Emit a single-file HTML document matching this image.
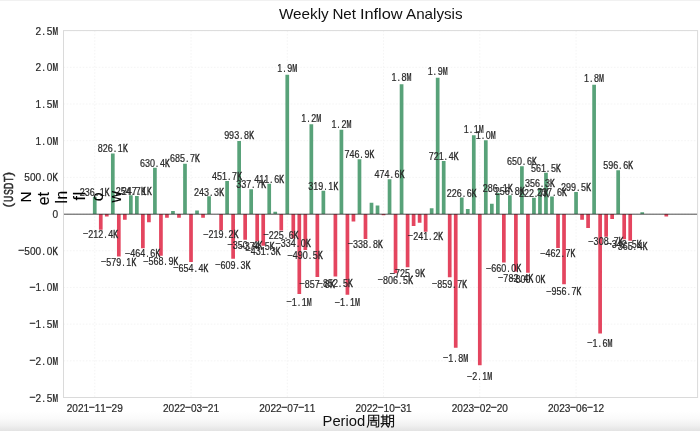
<!DOCTYPE html>
<html><head><meta charset="utf-8"><title>Weekly Net Inflow Analysis</title>
<style>html,body{margin:0;padding:0;background:#fff;}body{width:700px;height:431px;overflow:hidden;font-family:"Liberation Sans",sans-serif;}svg{display:block;will-change:transform;}</style>
</head><body>
<svg width="700" height="431" viewBox="0 0 700 431">
<defs><linearGradient id="bg" x1="0" y1="0" x2="0" y2="1"><stop offset="0" stop-color="#ffffff"/><stop offset="0.35" stop-color="#fbfbfb"/><stop offset="0.7" stop-color="#f1f1f1"/><stop offset="1" stop-color="#e3e3e3"/></linearGradient></defs>
<rect x="0" y="0" width="700" height="431" fill="#fff"/>
<rect x="0" y="411" width="700" height="20" fill="url(#bg)"/>
<rect x="0" y="0" width="700" height="1" fill="#f1f1f1"/>
<path d="M63.5 30.60H697.6 M63.5 67.29H697.6 M63.5 103.98H697.6 M63.5 140.67H697.6 M63.5 177.36H697.6 M63.5 214.05H697.6 M63.5 250.74H697.6 M63.5 287.43H697.6 M63.5 324.12H697.6 M63.5 360.81H697.6 M63.5 397.50H697.6 M94.75 30.6V397.5 M191.01 30.6V397.5 M287.27 30.6V397.5 M383.53 30.6V397.5 M479.79 30.6V397.5 M576.05 30.6V397.5" stroke="#f1f1f1" stroke-width="0.8" stroke-dasharray="1.6 1.6" fill="none"/>
<path d="M92.90 196.72h3.7V214.05h-3.7zM110.95 153.43h3.7V214.05h-3.7zM129.00 195.36h3.7V214.05h-3.7zM135.01 195.92h3.7V214.05h-3.7zM153.06 167.79h3.7V214.05h-3.7zM171.11 211.04h3.7V214.05h-3.7zM183.14 163.73h3.7V214.05h-3.7zM195.18 210.53h3.7V214.05h-3.7zM207.21 196.20h3.7V214.05h-3.7zM225.26 180.90h3.7V214.05h-3.7zM237.29 141.12h3.7V214.05h-3.7zM249.32 189.27h3.7V214.05h-3.7zM267.37 183.85h3.7V214.05h-3.7zM273.39 211.85h3.7V214.05h-3.7zM285.42 74.77h3.7V214.05h-3.7zM309.49 124.23h3.7V214.05h-3.7zM321.52 190.63h3.7V214.05h-3.7zM339.57 129.66h3.7V214.05h-3.7zM357.62 159.24h3.7V214.05h-3.7zM369.65 202.68h3.7V214.05h-3.7zM375.67 205.61h3.7V214.05h-3.7zM387.70 179.22h3.7V214.05h-3.7zM399.73 84.31h3.7V214.05h-3.7zM429.81 208.33h3.7V214.05h-3.7zM435.83 77.78h3.7V214.05h-3.7zM441.85 161.11h3.7V214.05h-3.7zM459.89 197.42h3.7V214.05h-3.7zM465.91 209.06h3.7V214.05h-3.7zM471.93 135.17h3.7V214.05h-3.7zM483.96 140.30h3.7V214.05h-3.7zM489.98 203.85h3.7V214.05h-3.7zM495.99 193.06h3.7V214.05h-3.7zM508.02 195.21h3.7V214.05h-3.7zM520.06 166.31h3.7V214.05h-3.7zM532.09 197.71h3.7V214.05h-3.7zM538.11 187.90h3.7V214.05h-3.7zM544.12 172.85h3.7V214.05h-3.7zM550.14 196.61h3.7V214.05h-3.7zM574.20 192.07h3.7V214.05h-3.7zM592.25 84.83h3.7V214.05h-3.7zM616.32 170.27h3.7V214.05h-3.7zM640.38 212.22h3.7V214.05h-3.7z" fill="#58a279"/>
<path d="M98.92 214.05h3.7V229.64h-3.7zM104.93 214.05h3.7V216.47h-3.7zM116.97 214.05h3.7V256.54h-3.7zM122.98 214.05h3.7V219.63h-3.7zM141.03 214.05h3.7V248.14h-3.7zM147.05 214.05h3.7V222.34h-3.7zM159.08 214.05h3.7V255.80h-3.7zM165.10 214.05h3.7V217.65h-3.7zM177.13 214.05h3.7V217.65h-3.7zM189.16 214.05h3.7V262.07h-3.7zM201.19 214.05h3.7V217.72h-3.7zM219.24 214.05h3.7V230.13h-3.7zM231.27 214.05h3.7V258.76h-3.7zM243.31 214.05h3.7V239.76h-3.7zM255.34 214.05h3.7V241.53h-3.7zM261.36 214.05h3.7V245.70h-3.7zM279.41 214.05h3.7V230.60h-3.7zM291.44 214.05h3.7V238.56h-3.7zM297.45 214.05h3.7V294.03h-3.7zM303.47 214.05h3.7V250.04h-3.7zM315.50 214.05h3.7V277.00h-3.7zM333.55 214.05h3.7V276.61h-3.7zM345.58 214.05h3.7V294.77h-3.7zM351.60 214.05h3.7V221.46h-3.7zM363.63 214.05h3.7V238.91h-3.7zM381.68 214.05h3.7V215.15h-3.7zM393.71 214.05h3.7V273.23h-3.7zM405.75 214.05h3.7V267.32h-3.7zM411.76 214.05h3.7V225.94h-3.7zM417.78 214.05h3.7V222.64h-3.7zM423.80 214.05h3.7V231.75h-3.7zM447.86 214.05h3.7V277.13h-3.7zM453.88 214.05h3.7V347.67h-3.7zM477.94 214.05h3.7V365.29h-3.7zM502.01 214.05h3.7V262.48h-3.7zM514.04 214.05h3.7V271.46h-3.7zM526.07 214.05h3.7V272.75h-3.7zM556.16 214.05h3.7V248.00h-3.7zM562.17 214.05h3.7V284.25h-3.7zM580.22 214.05h3.7V219.85h-3.7zM586.24 214.05h3.7V227.92h-3.7zM598.27 214.05h3.7V333.51h-3.7zM604.29 214.05h3.7V236.70h-3.7zM610.30 214.05h3.7V218.89h-3.7zM622.33 214.05h3.7V239.18h-3.7zM628.35 214.05h3.7V240.86h-3.7zM664.45 214.05h3.7V216.47h-3.7z" fill="#e4455f"/>
<path d="M63.5 214.2H697.6" stroke="#222" stroke-width="0.8"/>
<rect x="63.5" y="30.6" width="634.1" height="366.9" fill="none" stroke="#dadada" stroke-width="1"/>
<g font-family="Liberation Sans, sans-serif" fill="#2a2a2a" stroke="#2a2a2a" stroke-width="0.22">
<g font-size="10.2"><text transform="matrix(0.881 0 0 1 79.75 196.08)" x="0.00 5.67 11.35 18.04 22.69">236.1</text><text transform="matrix(0.706 0 0 1 104.85 196.08)" stroke-width="0.5">K</text></g>
<g font-size="10.2"><text transform="matrix(0.881 0 0 1 83.27 237.92)" x="5.67 11.35 17.02 23.71 28.37">212.4</text><text transform="matrix(0.934 0 0 1 82.98 237.22)">−</text><text transform="matrix(0.706 0 0 1 113.37 237.92)" stroke-width="0.5">K</text></g>
<g font-size="10.2"><text transform="matrix(0.881 0 0 1 97.80 151.92)" x="0.00 5.67 11.35 18.04 22.69">826.1</text><text transform="matrix(0.706 0 0 1 122.90 151.92)" stroke-width="0.5">K</text></g>
<g font-size="10.2"><text transform="matrix(0.881 0 0 1 101.32 266.17)" x="5.67 11.35 17.02 23.71 28.37">579.1</text><text transform="matrix(0.934 0 0 1 101.03 265.47)">−</text><text transform="matrix(0.706 0 0 1 131.42 266.17)" stroke-width="0.5">K</text></g>
<g font-size="10.2"><text transform="matrix(0.881 0 0 1 115.85 194.69)" x="0.00 5.67 11.35 18.04 22.69">254.7</text><text transform="matrix(0.706 0 0 1 140.95 194.69)" stroke-width="0.5">K</text></g>
<g font-size="10.2"><text transform="matrix(0.881 0 0 1 121.86 195.26)" x="0.00 5.67 11.35 18.04 22.69">247.1</text><text transform="matrix(0.706 0 0 1 146.96 195.26)" stroke-width="0.5">K</text></g>
<g font-size="10.2"><text transform="matrix(0.881 0 0 1 125.38 257.35)" x="5.67 11.35 17.02 23.71 28.37">464.6</text><text transform="matrix(0.934 0 0 1 125.10 256.65)">−</text><text transform="matrix(0.706 0 0 1 155.48 257.35)" stroke-width="0.5">K</text></g>
<g font-size="10.2"><text transform="matrix(0.881 0 0 1 139.91 166.57)" x="0.00 5.67 11.35 18.04 22.69">630.4</text><text transform="matrix(0.706 0 0 1 165.01 166.57)" stroke-width="0.5">K</text></g>
<g font-size="10.2"><text transform="matrix(0.881 0 0 1 143.43 265.38)" x="5.67 11.35 17.02 23.71 28.37">568.9</text><text transform="matrix(0.934 0 0 1 143.15 264.68)">−</text><text transform="matrix(0.706 0 0 1 173.53 265.38)" stroke-width="0.5">K</text></g>
<g font-size="10.2"><text transform="matrix(0.881 0 0 1 169.99 162.43)" x="0.00 5.67 11.35 18.04 22.69">685.7</text><text transform="matrix(0.706 0 0 1 195.09 162.43)" stroke-width="0.5">K</text></g>
<g font-size="10.2"><text transform="matrix(0.881 0 0 1 173.51 271.97)" x="5.67 11.35 17.02 23.71 28.37">654.4</text><text transform="matrix(0.934 0 0 1 173.23 271.27)">−</text><text transform="matrix(0.706 0 0 1 203.61 271.97)" stroke-width="0.5">K</text></g>
<g font-size="10.2"><text transform="matrix(0.881 0 0 1 194.06 195.54)" x="0.00 5.67 11.35 18.04 22.69">243.3</text><text transform="matrix(0.706 0 0 1 219.16 195.54)" stroke-width="0.5">K</text></g>
<g font-size="10.2"><text transform="matrix(0.881 0 0 1 203.59 238.44)" x="5.67 11.35 17.02 23.71 28.37">219.2</text><text transform="matrix(0.934 0 0 1 203.31 237.74)">−</text><text transform="matrix(0.706 0 0 1 233.69 238.44)" stroke-width="0.5">K</text></g>
<g font-size="10.2"><text transform="matrix(0.881 0 0 1 212.11 179.94)" x="0.00 5.67 11.35 18.04 22.69">451.7</text><text transform="matrix(0.706 0 0 1 237.21 179.94)" stroke-width="0.5">K</text></g>
<g font-size="10.2"><text transform="matrix(0.881 0 0 1 215.62 268.50)" x="5.67 11.35 17.02 23.71 28.37">609.3</text><text transform="matrix(0.934 0 0 1 215.34 267.80)">−</text><text transform="matrix(0.706 0 0 1 245.72 268.50)" stroke-width="0.5">K</text></g>
<g font-size="10.2"><text transform="matrix(0.881 0 0 1 224.14 139.37)" x="0.00 5.67 11.35 18.04 22.69">993.8</text><text transform="matrix(0.706 0 0 1 249.24 139.37)" stroke-width="0.5">K</text></g>
<g font-size="10.2"><text transform="matrix(0.881 0 0 1 227.66 248.55)" x="5.67 11.35 17.02 23.71 28.37">350.4</text><text transform="matrix(0.934 0 0 1 227.38 247.85)">−</text><text transform="matrix(0.706 0 0 1 257.76 248.55)" stroke-width="0.5">K</text></g>
<g font-size="10.2"><text transform="matrix(0.881 0 0 1 236.17 188.47)" x="0.00 5.67 11.35 18.04 22.69">337.7</text><text transform="matrix(0.706 0 0 1 261.27 188.47)" stroke-width="0.5">K</text></g>
<g font-size="10.2"><text transform="matrix(0.881 0 0 1 239.69 250.40)" x="5.67 11.35 17.02 23.71 28.37">374.5</text><text transform="matrix(0.934 0 0 1 239.41 249.70)">−</text><text transform="matrix(0.706 0 0 1 269.79 250.40)" stroke-width="0.5">K</text></g>
<g font-size="10.2"><text transform="matrix(0.881 0 0 1 245.71 254.78)" x="5.67 11.35 17.02 23.71 28.37">431.3</text><text transform="matrix(0.934 0 0 1 245.42 254.08)">−</text><text transform="matrix(0.706 0 0 1 275.81 254.78)" stroke-width="0.5">K</text></g>
<g font-size="10.2"><text transform="matrix(0.881 0 0 1 254.22 182.94)" x="0.00 5.67 11.35 18.04 22.69">411.6</text><text transform="matrix(0.706 0 0 1 279.32 182.94)" stroke-width="0.5">K</text></g>
<g font-size="10.2"><text transform="matrix(0.881 0 0 1 263.76 238.93)" x="5.67 11.35 17.02 23.71 28.37">225.6</text><text transform="matrix(0.934 0 0 1 263.47 238.23)">−</text><text transform="matrix(0.706 0 0 1 293.86 238.93)" stroke-width="0.5">K</text></g>
<g font-size="10.2"><text transform="matrix(0.881 0 0 1 277.27 71.69)" x="0.00 6.69 11.35">1.9</text><text transform="matrix(0.588 0 0 1 292.27 71.69)" font-weight="bold" stroke-width="0.1">M</text></g>
<g font-size="10.2"><text transform="matrix(0.881 0 0 1 275.79 247.28)" x="5.67 11.35 17.02 23.71 28.37">334.0</text><text transform="matrix(0.934 0 0 1 275.51 246.58)">−</text><text transform="matrix(0.706 0 0 1 305.89 247.28)" stroke-width="0.5">K</text></g>
<g font-size="10.2"><text transform="matrix(0.881 0 0 1 286.80 305.53)" x="5.67 12.37 17.02">1.1</text><text transform="matrix(0.934 0 0 1 286.52 304.83)">−</text><text transform="matrix(0.588 0 0 1 306.80 305.53)" font-weight="bold" stroke-width="0.1">M</text></g>
<g font-size="10.2"><text transform="matrix(0.881 0 0 1 287.82 259.34)" x="5.67 11.35 17.02 23.71 28.37">490.5</text><text transform="matrix(0.934 0 0 1 287.54 258.64)">−</text><text transform="matrix(0.706 0 0 1 317.92 259.34)" stroke-width="0.5">K</text></g>
<g font-size="10.2"><text transform="matrix(0.881 0 0 1 301.34 122.14)" x="0.00 6.69 11.35">1.2</text><text transform="matrix(0.588 0 0 1 316.34 122.14)" font-weight="bold" stroke-width="0.1">M</text></g>
<g font-size="10.2"><text transform="matrix(0.881 0 0 1 299.85 287.64)" x="5.67 11.35 17.02 23.71 28.37">857.8</text><text transform="matrix(0.934 0 0 1 299.57 286.94)">−</text><text transform="matrix(0.706 0 0 1 329.95 287.64)" stroke-width="0.5">K</text></g>
<g font-size="10.2"><text transform="matrix(0.881 0 0 1 308.37 189.87)" x="0.00 5.67 11.35 18.04 22.69">319.1</text><text transform="matrix(0.706 0 0 1 333.47 189.87)" stroke-width="0.5">K</text></g>
<g font-size="10.2"><text transform="matrix(0.881 0 0 1 317.90 287.23)" x="5.67 11.35 17.02 23.71 28.37">852.5</text><text transform="matrix(0.934 0 0 1 317.62 286.53)">−</text><text transform="matrix(0.706 0 0 1 348.00 287.23)" stroke-width="0.5">K</text></g>
<g font-size="10.2"><text transform="matrix(0.881 0 0 1 331.42 127.68)" x="0.00 6.69 11.35">1.2</text><text transform="matrix(0.588 0 0 1 346.42 127.68)" font-weight="bold" stroke-width="0.1">M</text></g>
<g font-size="10.2"><text transform="matrix(0.881 0 0 1 334.93 306.30)" x="5.67 12.37 17.02">1.1</text><text transform="matrix(0.934 0 0 1 334.65 305.60)">−</text><text transform="matrix(0.588 0 0 1 354.93 306.30)" font-weight="bold" stroke-width="0.1">M</text></g>
<g font-size="10.2"><text transform="matrix(0.881 0 0 1 344.47 157.85)" x="0.00 5.67 11.35 18.04 22.69">746.9</text><text transform="matrix(0.706 0 0 1 369.57 157.85)" stroke-width="0.5">K</text></g>
<g font-size="10.2"><text transform="matrix(0.881 0 0 1 347.98 247.65)" x="5.67 11.35 17.02 23.71 28.37">338.8</text><text transform="matrix(0.934 0 0 1 347.70 246.95)">−</text><text transform="matrix(0.706 0 0 1 378.08 247.65)" stroke-width="0.5">K</text></g>
<g font-size="10.2"><text transform="matrix(0.881 0 0 1 374.55 178.23)" x="0.00 5.67 11.35 18.04 22.69">474.6</text><text transform="matrix(0.706 0 0 1 399.65 178.23)" stroke-width="0.5">K</text></g>
<g font-size="10.2"><text transform="matrix(0.881 0 0 1 378.06 283.69)" x="5.67 11.35 17.02 23.71 28.37">806.5</text><text transform="matrix(0.934 0 0 1 377.78 282.99)">−</text><text transform="matrix(0.706 0 0 1 408.17 283.69)" stroke-width="0.5">K</text></g>
<g font-size="10.2"><text transform="matrix(0.881 0 0 1 391.58 81.42)" x="0.00 6.69 11.35">1.8</text><text transform="matrix(0.588 0 0 1 406.58 81.42)" font-weight="bold" stroke-width="0.1">M</text></g>
<g font-size="10.2"><text transform="matrix(0.881 0 0 1 390.10 277.48)" x="5.67 11.35 17.02 23.71 28.37">725.9</text><text transform="matrix(0.934 0 0 1 389.82 276.78)">−</text><text transform="matrix(0.706 0 0 1 420.20 277.48)" stroke-width="0.5">K</text></g>
<g font-size="10.2"><text transform="matrix(0.881 0 0 1 408.15 240.13)" x="5.67 11.35 17.02 23.71 28.37">241.2</text><text transform="matrix(0.934 0 0 1 407.86 239.43)">−</text><text transform="matrix(0.706 0 0 1 438.25 240.13)" stroke-width="0.5">K</text></g>
<g font-size="10.2"><text transform="matrix(0.881 0 0 1 427.68 74.76)" x="0.00 6.69 11.35">1.9</text><text transform="matrix(0.588 0 0 1 442.68 74.76)" font-weight="bold" stroke-width="0.1">M</text></g>
<g font-size="10.2"><text transform="matrix(0.881 0 0 1 428.70 159.75)" x="0.00 5.67 11.35 18.04 22.69">721.4</text><text transform="matrix(0.706 0 0 1 453.80 159.75)" stroke-width="0.5">K</text></g>
<g font-size="10.2"><text transform="matrix(0.881 0 0 1 432.21 287.79)" x="5.67 11.35 17.02 23.71 28.37">859.7</text><text transform="matrix(0.934 0 0 1 431.93 287.09)">−</text><text transform="matrix(0.706 0 0 1 462.31 287.79)" stroke-width="0.5">K</text></g>
<g font-size="10.2"><text transform="matrix(0.881 0 0 1 443.23 361.86)" x="5.67 12.37 17.02">1.8</text><text transform="matrix(0.934 0 0 1 442.95 361.16)">−</text><text transform="matrix(0.588 0 0 1 463.23 361.86)" font-weight="bold" stroke-width="0.1">M</text></g>
<g font-size="10.2"><text transform="matrix(0.881 0 0 1 446.74 196.79)" x="0.00 5.67 11.35 18.04 22.69">226.6</text><text transform="matrix(0.706 0 0 1 471.84 196.79)" stroke-width="0.5">K</text></g>
<g font-size="10.2"><text transform="matrix(0.881 0 0 1 463.78 133.29)" x="0.00 6.69 11.35">1.1</text><text transform="matrix(0.588 0 0 1 478.78 133.29)" font-weight="bold" stroke-width="0.1">M</text></g>
<g font-size="10.2"><text transform="matrix(0.881 0 0 1 467.29 380.35)" x="5.67 12.37 17.02">2.1</text><text transform="matrix(0.934 0 0 1 467.01 379.65)">−</text><text transform="matrix(0.588 0 0 1 487.29 380.35)" font-weight="bold" stroke-width="0.1">M</text></g>
<g font-size="10.2"><text transform="matrix(0.881 0 0 1 475.81 138.53)" x="0.00 6.69 11.35">1.0</text><text transform="matrix(0.588 0 0 1 490.81 138.53)" font-weight="bold" stroke-width="0.1">M</text></g>
<g font-size="10.2"><text transform="matrix(0.881 0 0 1 482.84 192.34)" x="0.00 5.67 11.35 18.04 22.69">286.1</text><text transform="matrix(0.706 0 0 1 507.94 192.34)" stroke-width="0.5">K</text></g>
<g font-size="10.2"><text transform="matrix(0.881 0 0 1 486.36 272.40)" x="5.67 11.35 17.02 23.71 28.37">660.0</text><text transform="matrix(0.934 0 0 1 486.08 271.70)">−</text><text transform="matrix(0.706 0 0 1 516.46 272.40)" stroke-width="0.5">K</text></g>
<g font-size="10.2"><text transform="matrix(0.881 0 0 1 494.87 194.53)" x="0.00 5.67 11.35 18.04 22.69">256.8</text><text transform="matrix(0.706 0 0 1 519.97 194.53)" stroke-width="0.5">K</text></g>
<g font-size="10.2"><text transform="matrix(0.881 0 0 1 498.39 281.83)" x="5.67 11.35 17.02 23.71 28.37">782.4</text><text transform="matrix(0.934 0 0 1 498.11 281.13)">−</text><text transform="matrix(0.706 0 0 1 528.49 281.83)" stroke-width="0.5">K</text></g>
<g font-size="10.2"><text transform="matrix(0.881 0 0 1 506.91 165.05)" x="0.00 5.67 11.35 18.04 22.69">650.6</text><text transform="matrix(0.706 0 0 1 532.01 165.05)" stroke-width="0.5">K</text></g>
<g font-size="10.2"><text transform="matrix(0.881 0 0 1 510.42 283.19)" x="5.67 11.35 17.02 23.71 28.37">800.0</text><text transform="matrix(0.934 0 0 1 510.14 282.49)">−</text><text transform="matrix(0.706 0 0 1 540.52 283.19)" stroke-width="0.5">K</text></g>
<g font-size="10.2"><text transform="matrix(0.881 0 0 1 518.94 197.08)" x="0.00 5.67 11.35 18.04 22.69">222.7</text><text transform="matrix(0.706 0 0 1 544.04 197.08)" stroke-width="0.5">K</text></g>
<g font-size="10.2"><text transform="matrix(0.881 0 0 1 524.96 187.08)" x="0.00 5.67 11.35 18.04 22.69">356.3</text><text transform="matrix(0.706 0 0 1 550.06 187.08)" stroke-width="0.5">K</text></g>
<g font-size="10.2"><text transform="matrix(0.881 0 0 1 530.97 171.72)" x="0.00 5.67 11.35 18.04 22.69">561.5</text><text transform="matrix(0.706 0 0 1 556.07 171.72)" stroke-width="0.5">K</text></g>
<g font-size="10.2"><text transform="matrix(0.881 0 0 1 536.99 195.97)" x="0.00 5.67 11.35 18.04 22.69">237.6</text><text transform="matrix(0.706 0 0 1 562.09 195.97)" stroke-width="0.5">K</text></g>
<g font-size="10.2"><text transform="matrix(0.881 0 0 1 540.51 257.20)" x="5.67 11.35 17.02 23.71 28.37">462.7</text><text transform="matrix(0.934 0 0 1 540.22 256.50)">−</text><text transform="matrix(0.706 0 0 1 570.61 257.20)" stroke-width="0.5">K</text></g>
<g font-size="10.2"><text transform="matrix(0.881 0 0 1 546.52 295.26)" x="5.67 11.35 17.02 23.71 28.37">956.7</text><text transform="matrix(0.934 0 0 1 546.24 294.56)">−</text><text transform="matrix(0.706 0 0 1 576.62 295.26)" stroke-width="0.5">K</text></g>
<g font-size="10.2"><text transform="matrix(0.881 0 0 1 561.05 191.33)" x="0.00 5.67 11.35 18.04 22.69">299.5</text><text transform="matrix(0.706 0 0 1 586.15 191.33)" stroke-width="0.5">K</text></g>
<g font-size="10.2"><text transform="matrix(0.881 0 0 1 584.10 81.94)" x="0.00 6.69 11.35">1.8</text><text transform="matrix(0.588 0 0 1 599.10 81.94)" font-weight="bold" stroke-width="0.1">M</text></g>
<g font-size="10.2"><text transform="matrix(0.881 0 0 1 587.62 346.99)" x="5.67 12.37 17.02">1.6</text><text transform="matrix(0.934 0 0 1 587.34 346.29)">−</text><text transform="matrix(0.588 0 0 1 607.62 346.99)" font-weight="bold" stroke-width="0.1">M</text></g>
<g font-size="10.2"><text transform="matrix(0.881 0 0 1 588.64 245.34)" x="5.67 11.35 17.02 23.71 28.37">308.7</text><text transform="matrix(0.934 0 0 1 588.35 244.64)">−</text><text transform="matrix(0.706 0 0 1 618.74 245.34)" stroke-width="0.5">K</text></g>
<g font-size="10.2"><text transform="matrix(0.881 0 0 1 603.17 169.10)" x="0.00 5.67 11.35 18.04 22.69">596.6</text><text transform="matrix(0.706 0 0 1 628.27 169.10)" stroke-width="0.5">K</text></g>
<g font-size="10.2"><text transform="matrix(0.881 0 0 1 606.68 247.94)" x="5.67 11.35 17.02 23.71 28.37">342.5</text><text transform="matrix(0.934 0 0 1 606.40 247.24)">−</text><text transform="matrix(0.706 0 0 1 636.78 247.94)" stroke-width="0.5">K</text></g>
<g font-size="10.2"><text transform="matrix(0.881 0 0 1 612.70 249.70)" x="5.67 11.35 17.02 23.71 28.37">365.4</text><text transform="matrix(0.934 0 0 1 612.42 249.00)">−</text><text transform="matrix(0.706 0 0 1 642.80 249.70)" stroke-width="0.5">K</text></g>
<g font-size="11.6"><text transform="matrix(0.871 0 0 1 35.52 34.60)" x="0.00 7.61 12.90">2.5</text><text transform="matrix(0.582 0 0 1 52.38 34.60)" font-weight="bold" stroke-width="0.1">M</text></g>
<g font-size="11.6"><text transform="matrix(0.871 0 0 1 35.52 71.29)" x="0.00 7.61 12.90">2.0</text><text transform="matrix(0.582 0 0 1 52.38 71.29)" font-weight="bold" stroke-width="0.1">M</text></g>
<g font-size="11.6"><text transform="matrix(0.871 0 0 1 35.52 107.98)" x="0.00 7.61 12.90">1.5</text><text transform="matrix(0.582 0 0 1 52.38 107.98)" font-weight="bold" stroke-width="0.1">M</text></g>
<g font-size="11.6"><text transform="matrix(0.871 0 0 1 35.52 144.67)" x="0.00 7.61 12.90">1.0</text><text transform="matrix(0.582 0 0 1 52.38 144.67)" font-weight="bold" stroke-width="0.1">M</text></g>
<g font-size="11.6"><text transform="matrix(0.871 0 0 1 24.28 181.36)" x="0.00 6.45 12.90 20.52 25.81">500.0</text><text transform="matrix(0.697 0 0 1 52.49 181.36)" stroke-width="0.5">K</text></g>
<g font-size="11.6"><text transform="matrix(0.871 0 0 1 52.38 218.05)" x="0.00">0</text></g>
<g font-size="11.6"><text transform="matrix(0.871 0 0 1 18.66 254.74)" x="6.45 12.90 19.36 26.97 32.26">500.0</text><text transform="matrix(0.923 0 0 1 18.34 254.04)">−</text><text transform="matrix(0.697 0 0 1 52.49 254.74)" stroke-width="0.5">K</text></g>
<g font-size="11.6"><text transform="matrix(0.871 0 0 1 29.90 291.43)" x="6.45 14.07 19.36">1.0</text><text transform="matrix(0.923 0 0 1 29.58 290.73)">−</text><text transform="matrix(0.582 0 0 1 52.38 291.43)" font-weight="bold" stroke-width="0.1">M</text></g>
<g font-size="11.6"><text transform="matrix(0.871 0 0 1 29.90 328.12)" x="6.45 14.07 19.36">1.5</text><text transform="matrix(0.923 0 0 1 29.58 327.42)">−</text><text transform="matrix(0.582 0 0 1 52.38 328.12)" font-weight="bold" stroke-width="0.1">M</text></g>
<g font-size="11.6"><text transform="matrix(0.871 0 0 1 29.90 364.81)" x="6.45 14.07 19.36">2.0</text><text transform="matrix(0.923 0 0 1 29.58 364.11)">−</text><text transform="matrix(0.582 0 0 1 52.38 364.81)" font-weight="bold" stroke-width="0.1">M</text></g>
<g font-size="11.6"><text transform="matrix(0.871 0 0 1 29.90 401.50)" x="6.45 14.07 19.36">2.5</text><text transform="matrix(0.923 0 0 1 29.58 400.80)">−</text><text transform="matrix(0.582 0 0 1 52.38 401.50)" font-weight="bold" stroke-width="0.1">M</text></g>
<g font-size="11.6"><text transform="matrix(0.871 0 0 1 66.65 411.80)" x="0.00 6.45 12.90 19.36 32.26 38.71 51.62 58.07">20211129</text><text transform="matrix(0.923 0 0 1 88.81 411.10)">−</text><text transform="matrix(0.923 0 0 1 105.67 411.10)">−</text></g>
<g font-size="11.6"><text transform="matrix(0.871 0 0 1 162.91 411.80)" x="0.00 6.45 12.90 19.36 32.26 38.71 51.62 58.07">20220321</text><text transform="matrix(0.923 0 0 1 185.07 411.10)">−</text><text transform="matrix(0.923 0 0 1 201.93 411.10)">−</text></g>
<g font-size="11.6"><text transform="matrix(0.871 0 0 1 259.17 411.80)" x="0.00 6.45 12.90 19.36 32.26 38.71 51.62 58.07">20220711</text><text transform="matrix(0.923 0 0 1 281.33 411.10)">−</text><text transform="matrix(0.923 0 0 1 298.19 411.10)">−</text></g>
<g font-size="11.6"><text transform="matrix(0.871 0 0 1 355.43 411.80)" x="0.00 6.45 12.90 19.36 32.26 38.71 51.62 58.07">20221031</text><text transform="matrix(0.923 0 0 1 377.60 411.10)">−</text><text transform="matrix(0.923 0 0 1 394.46 411.10)">−</text></g>
<g font-size="11.6"><text transform="matrix(0.871 0 0 1 451.69 411.80)" x="0.00 6.45 12.90 19.36 32.26 38.71 51.62 58.07">20230220</text><text transform="matrix(0.923 0 0 1 473.86 411.10)">−</text><text transform="matrix(0.923 0 0 1 490.72 411.10)">−</text></g>
<g font-size="11.6"><text transform="matrix(0.871 0 0 1 547.95 411.80)" x="0.00 6.45 12.90 19.36 32.26 38.71 51.62 58.07">20230612</text><text transform="matrix(0.923 0 0 1 570.12 411.10)">−</text><text transform="matrix(0.923 0 0 1 586.98 411.10)">−</text></g>
<g transform="translate(12.7 208.6) rotate(-90)" font-size="12"><text transform="matrix(1.15 0 0 1 1.10 -0.4)" stroke-width="0.3">(</text><text transform="matrix(0.72 0 0 1 6.48 0)" stroke-width="0.55">U</text><text transform="matrix(0.72 0 0 1 13.52 0)" stroke-width="0.55">S</text><text transform="matrix(0.72 0 0 1 19.58 0)" stroke-width="0.55">D</text><text transform="matrix(0.74 0 0 1 26.59 0)" stroke-width="0.55">T</text><text transform="matrix(1.15 0 0 1 32.10 -0.4)" stroke-width="0.3">)</text></g>
</g>
<g font-family="Liberation Sans, sans-serif" fill="#111">
<text x="278.90" y="19.4" font-size="14.5" textLength="49.80" lengthAdjust="spacingAndGlyphs">Weekly</text>
<text x="332.40" y="19.4" font-size="14.5" textLength="23.60" lengthAdjust="spacingAndGlyphs">Net</text>
<text x="359.90" y="19.4" font-size="14.5" textLength="42.80" lengthAdjust="spacingAndGlyphs">Inflow</text>
<text x="406.00" y="19.4" font-size="14.5" textLength="56.60" lengthAdjust="spacingAndGlyphs">Analysis</text>
<text x="322.5" y="425.7" font-size="15" textLength="42.8" lengthAdjust="spacingAndGlyphs">Period</text>
<text transform="translate(31.00 191.3) rotate(-90)" font-size="15.4" text-anchor="end" fill="#000" stroke="#000" stroke-width="0.12">N</text>
<text transform="translate(48.90 192.1) rotate(-90)" font-size="15.8" text-anchor="end" fill="#000" stroke="#000" stroke-width="0.12">et</text>
<text transform="translate(66.80 190.7) rotate(-90)" font-size="15.8" text-anchor="end" fill="#000" stroke="#000" stroke-width="0.12">In</text>
<text transform="translate(84.70 191.7) rotate(-90)" font-size="16" text-anchor="end" fill="#000" stroke="#000" stroke-width="0.12" textLength="8.9" lengthAdjust="spacing">fl</text>
<text transform="translate(102.60 192.4) rotate(-90)" font-size="16" text-anchor="end" fill="#000" stroke="#000" stroke-width="0.12">o</text>
<text transform="translate(120.50 191.0) rotate(-90)" font-size="16" text-anchor="end" fill="#000" stroke="#000" stroke-width="0.12">w</text>
</g>
<g fill="none" stroke="#111" stroke-width="8.52" stroke-linecap="square">
<path transform="translate(366.8 414.2) scale(0.135)" d="M14 8V55Q14 80 4 95 M14 8H88V88Q88 95 78 95L70 94 M30 28H72 M51 16V46 M26 46H76 M32 58H70V82H32Z"/>
<path transform="translate(380.8 414.2) scale(0.135)" d="M16 6V70 M44 6V70 M4 20H56 M16 36H44 M16 52H44 M2 70H58 M20 76L6 94 M40 76L52 92 M66 8V60Q66 82 56 95 M66 8H94V88Q94 95 86 95L80 94 M66 32H94 M66 54H94"/>
</g>
</svg>
</body></html>
